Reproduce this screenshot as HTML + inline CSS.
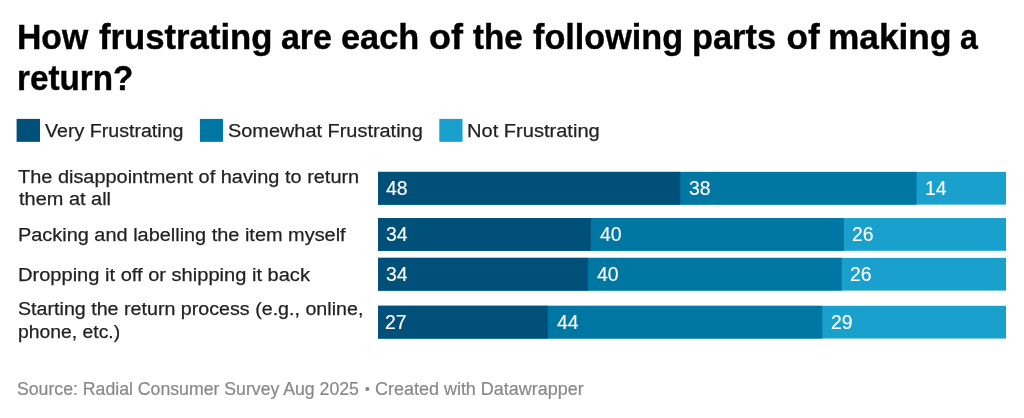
<!DOCTYPE html>
<html lang="en">
<head>
<meta charset="utf-8">
<title>How frustrating are each of the following parts of making a return?</title>
<style>
html,body{margin:0;padding:0;background:#fff;overflow:hidden;}
body{width:1024px;height:418px;position:relative;overflow:hidden;font-family:"Liberation Sans", sans-serif;}
.chart{position:absolute;left:0;top:0;width:1024px;height:418px;}
.x{position:absolute;white-space:nowrap;transform-origin:0 0;display:block;margin:0;padding:0;}
.t{font-weight:700;font-size:35.2px;color:#000;-webkit-text-stroke:0.4px #000;}
.lg,.lb{font-size:19.2px;color:#222;-webkit-text-stroke:0.25px #222;}
.v{font-size:19.7px;color:#fff;-webkit-text-stroke:0.15px #fff;}
.ft{font-size:17.6px;color:#888;-webkit-text-stroke:0.2px #888;}
.g{position:absolute;left:0;top:0;display:block;}
.w{margin:0;padding:0;font-size:inherit;font-weight:inherit;position:static;}
</style>
</head>
<body>
<div class="chart">
<svg class="g" width="1024" height="418" viewBox="0 0 1024 418">
<rect x="16.60" y="118.9" width="23.40" height="22.95" fill="#00507a"/>
<rect x="199.90" y="118.9" width="23.10" height="22.95" fill="#0077a3"/>
<rect x="439.30" y="118.9" width="23.20" height="22.95" fill="#1aa0cc"/>
<rect x="378.00" y="171.90" width="628.00" height="32.75" fill="#1aa0cc"/>
<rect x="378.00" y="171.90" width="538.60" height="32.75" fill="#0077a3"/>
<rect x="378.00" y="171.90" width="302.25" height="32.75" fill="#00507a"/>
<rect x="378.00" y="218.05" width="628.00" height="32.75" fill="#1aa0cc"/>
<rect x="378.00" y="218.05" width="465.90" height="32.75" fill="#0077a3"/>
<rect x="378.00" y="218.05" width="212.90" height="32.75" fill="#00507a"/>
<rect x="378.00" y="257.85" width="628.00" height="32.75" fill="#1aa0cc"/>
<rect x="378.00" y="257.85" width="463.75" height="32.75" fill="#0077a3"/>
<rect x="378.00" y="257.85" width="209.90" height="32.75" fill="#00507a"/>
<rect x="378.00" y="305.80" width="628.00" height="32.75" fill="#1aa0cc"/>
<rect x="378.00" y="305.80" width="444.30" height="32.75" fill="#0077a3"/>
<rect x="378.00" y="305.80" width="169.80" height="32.75" fill="#00507a"/>
</svg>
<h1 class="w">
<span class="x t" style="left:16.64px;top:17px;line-height:39px;transform:scaleX(0.9589)">How</span> 
<span class="x t" style="left:98.71px;top:17px;line-height:39px;transform:scaleX(0.9859)">frustrating</span> 
<span class="x t" style="left:281.47px;top:17px;line-height:39px;transform:scaleX(0.9626)">are</span> 
<span class="x t" style="left:341.43px;top:17px;line-height:39px;transform:scaleX(0.9751)">each</span> 
<span class="x t" style="left:428.87px;top:17px;line-height:39px;transform:scaleX(1.0230)">of</span> 
<span class="x t" style="left:473.00px;top:17px;line-height:39px;transform:scaleX(0.9437)">the</span> 
<span class="x t" style="left:532.97px;top:17px;line-height:39px;transform:scaleX(0.9727)">following</span> 
<span class="x t" style="left:692.35px;top:17px;line-height:39px;transform:scaleX(0.9764)">parts</span> 
<span class="x t" style="left:786.40px;top:17px;line-height:39px;transform:scaleX(1.0000)">of</span> 
<span class="x t" style="left:827.80px;top:17px;line-height:39px;transform:scaleX(1.0018)">making</span> 
<span class="x t" style="left:959.70px;top:17px;line-height:39px;transform:scaleX(0.9091)">a</span> 
<span class="x t" style="left:17.42px;top:58px;line-height:39px;transform:scaleX(0.9439)">return?</span>
</h1>
<div class="w legend">
<span class="x lg" style="left:45.25px;top:120px;line-height:21px;transform:scaleX(1.0228)">Very Frustrating</span> 
<span class="x lg" style="left:228.38px;top:120px;line-height:21px;transform:scaleX(1.0374)">Somewhat Frustrating</span> 
<span class="x lg" style="left:467.43px;top:120px;line-height:21px;transform:scaleX(1.0458)">Not Frustrating</span>
</div>
<div class="w labels">
<span class="x lb" style="left:18.44px;top:166px;line-height:21px;transform:scaleX(1.0386)">The disappointment of having to return</span> 
<span class="x lb" style="left:19.00px;top:188px;line-height:21px;transform:scaleX(1.0394)">them at all</span> 
<span class="x lb" style="left:17.84px;top:224px;line-height:21px;transform:scaleX(1.0378)">Packing and labelling the item myself</span> 
<span class="x lb" style="left:17.83px;top:264px;line-height:21px;transform:scaleX(1.0460)">Dropping it off or shipping it back</span> 
<span class="x lb" style="left:18.14px;top:298px;line-height:21px;transform:scaleX(1.0247)">Starting the return process (e.g., online,</span> 
<span class="x lb" style="left:18.19px;top:321px;line-height:21px;transform:scaleX(1.0080)">phone, etc.)</span>
</div>
<div class="w values">
<span class="x v" style="left:385.60px;top:177px;line-height:22px;transform:scaleX(0.9850)">48</span> 
<span class="x v" style="left:689.29px;top:177px;line-height:22px;transform:scaleX(0.9850)">38</span> 
<span class="x v" style="left:925.29px;top:177px;line-height:22px;transform:scaleX(0.9850)">14</span> 
<span class="x v" style="left:385.54px;top:223px;line-height:22px;transform:scaleX(0.9850)">34</span> 
<span class="x v" style="left:599.60px;top:223px;line-height:22px;transform:scaleX(0.9850)">40</span> 
<span class="x v" style="left:852.19px;top:223px;line-height:22px;transform:scaleX(0.9850)">26</span> 
<span class="x v" style="left:385.54px;top:263px;line-height:22px;transform:scaleX(0.9850)">34</span> 
<span class="x v" style="left:597.10px;top:263px;line-height:22px;transform:scaleX(0.9850)">40</span> 
<span class="x v" style="left:850.29px;top:263px;line-height:22px;transform:scaleX(0.9850)">26</span> 
<span class="x v" style="left:385.24px;top:311px;line-height:22px;transform:scaleX(0.9850)">27</span> 
<span class="x v" style="left:557.00px;top:311px;line-height:22px;transform:scaleX(0.9850)">44</span> 
<span class="x v" style="left:830.69px;top:311px;line-height:22px;transform:scaleX(0.9850)">29</span>
</div>
<div class="w footer">
<span class="x ft" style="left:16.70px;top:379px;line-height:20px;transform:scaleX(1.0047)">Source: Radial Consumer Survey Aug 2025</span> 
<span class="x ft" style="font-size:14.4px;left:364.78px;top:381px;line-height:16px;transform:scaleX(0.9383)">•</span> 
<span class="x ft" style="left:375.06px;top:379px;line-height:20px;transform:scaleX(1.0212)">Created with Datawrapper</span>
</div>
</div>
</body>
</html>
